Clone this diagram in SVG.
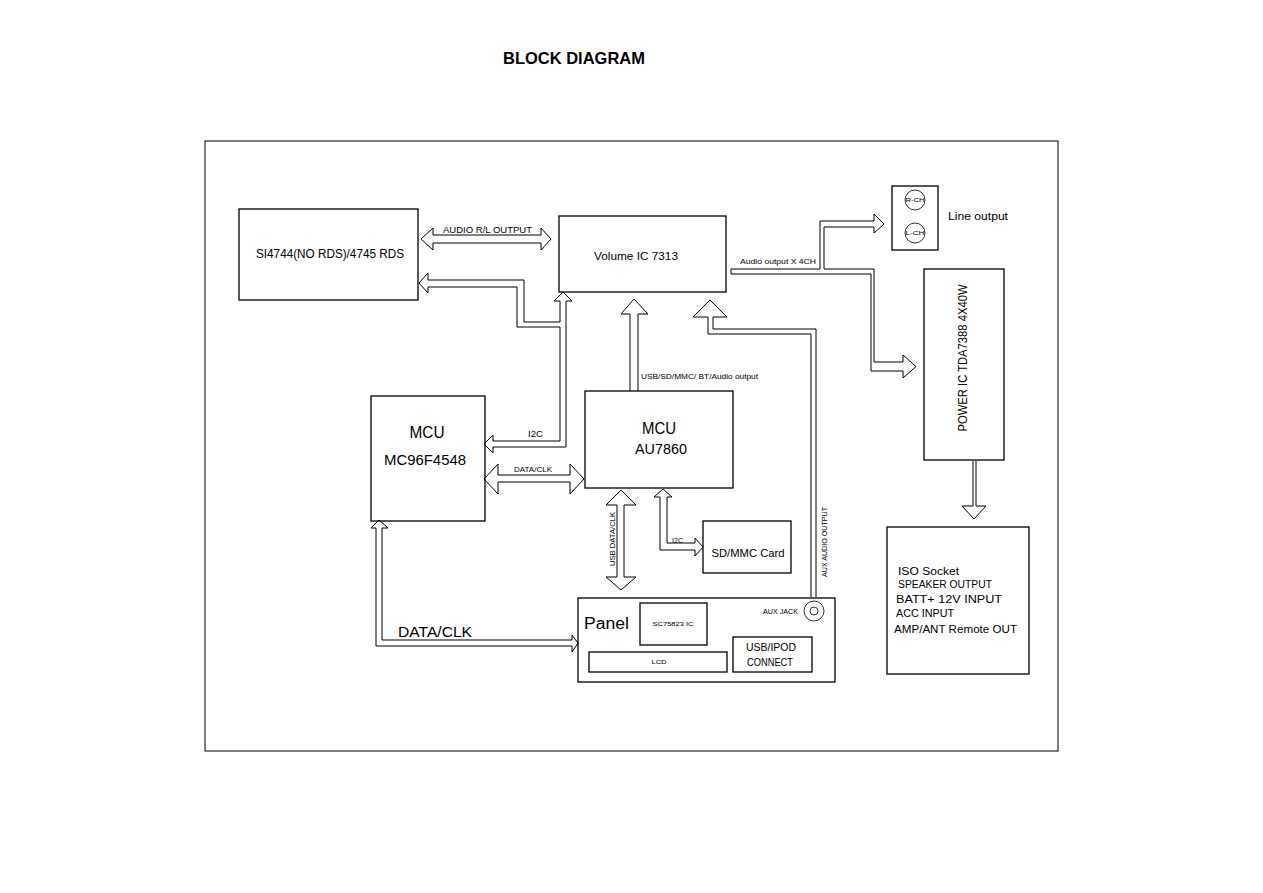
<svg xmlns="http://www.w3.org/2000/svg" width="1263" height="893" viewBox="0 0 1263 893">
<style>
.box{fill:none;stroke:#000;stroke-width:1.3}
.arr{fill:none;stroke:#000;stroke-width:1}
.t{font-family:"Liberation Sans",Arial,sans-serif;fill:#000}
.m{text-anchor:middle}
</style>
<rect width="1263" height="893" fill="#fff"/>
<text class="t" x="503" y="64" font-size="16.5" font-weight="bold" textLength="142" lengthAdjust="spacingAndGlyphs">BLOCK DIAGRAM</text>
<rect x="205" y="141" width="853" height="610" fill="none" stroke="#000" stroke-width="1"/>

<g id="connectors">
  <polygon class="arr" points="421,239 433,228 433,235 541,235 541,228 551,239 541,250 541,243 433,243 433,250"/>
  <polygon class="arr" points="563,292 572,301 566,301 566,447 493,447 493,453 484,444 493,435 493,441 560,441 560,327 517,327 517,287 428,287 428,293 419,283 428,273 428,280 524,280 524,322 560,322 560,301 554,301"/>
  <polyline class="arr" points="630,391 630,314 621,314 634,299 648,314 638,314 638,391"/>
  <polyline class="arr" points="811,597 811,334 708,334 708,317 693,317 710,300 727,317 713,317 713,329 816,329 816,597"/>
  <polygon class="arr" points="731,269 820,269 820,221 874,221 874,214 884,224 874,233 874,227 824,227 824,269 874,269 874,362 903,362 903,355 916,366.5 903,378 903,371 871,371 871,274 731,274"/>
  <polyline class="arr" points="973,461 973,506 962,506 974,519 986,506 976,506 976,461"/>
  <polygon class="arr" points="484,479 498,464 498,475 570,475 570,464 584,479 570,494 570,482 498,482 498,494"/>
  <polygon class="arr" points="621,490 636,505 624,505 624,577 636,577 621,590 606,577 617,577 617,505 606,505"/>
  <polygon class="arr" points="663,489 672,497 667,497 667,543 695,543 695,538 703,547 695,556 695,550 660,550 660,497 654,497"/>
  <polygon class="arr" points="379,520 388,528 382,528 382,640 572,640 572,635 578,643 572,652 572,646 376,646 376,528 371,528"/>
  <text class="t" x="443" y="233" font-size="8.5" textLength="89" lengthAdjust="spacingAndGlyphs">AUDIO R/L OUTPUT</text>
  <text class="t" x="740" y="263.5" font-size="7" textLength="76" lengthAdjust="spacingAndGlyphs">Audio output X 4CH</text>
  <text class="t" x="528" y="437" font-size="8.5" textLength="15" lengthAdjust="spacingAndGlyphs">I2C</text>
  <text class="t" x="514" y="471.5" font-size="7" textLength="38" lengthAdjust="spacingAndGlyphs">DATA/CLK</text>
  <text class="t" x="641" y="378.5" font-size="7.5" textLength="117" lengthAdjust="spacingAndGlyphs">USB/SD/MMC/ BT/Audio output</text>
  <text class="t m" transform="translate(614.7,539) rotate(-90)" font-size="7.5" textLength="54" lengthAdjust="spacingAndGlyphs">USB DATA/CLK</text>
  <text class="t" x="672" y="542.5" font-size="7" textLength="11" lengthAdjust="spacingAndGlyphs">I2C</text>
  <text class="t m" transform="translate(827,542) rotate(-90)" font-size="8" textLength="70" lengthAdjust="spacingAndGlyphs">AUX AUDIO OUTPUT</text>
  <text class="t" x="398" y="637" font-size="14" textLength="74" lengthAdjust="spacingAndGlyphs">DATA/CLK</text>
</g>

<g id="si4744">
  <rect class="box" x="239" y="209" width="179" height="91"/>
  <text class="t" x="256" y="258" font-size="12" textLength="148" lengthAdjust="spacingAndGlyphs">SI4744(NO RDS)/4745 RDS</text>
</g>
<g id="volume-ic">
  <rect class="box" x="559" y="216" width="167" height="76"/>
  <text class="t" x="594" y="260" font-size="11" textLength="84" lengthAdjust="spacingAndGlyphs">Volume IC 7313</text>
</g>
<g id="line-output">
  <rect class="box" x="892" y="186" width="46" height="64"/>
  <circle cx="915" cy="200" r="10" fill="none" stroke="#000" stroke-width="0.8"/>
  <circle cx="915" cy="233" r="10" fill="none" stroke="#000" stroke-width="0.8"/>
  <text class="t m" x="915" y="202" font-size="5.5" textLength="19" lengthAdjust="spacingAndGlyphs">R-CH</text>
  <text class="t m" x="915" y="235" font-size="5.5" textLength="19" lengthAdjust="spacingAndGlyphs">L-CH</text>
  <text class="t" x="948" y="219.5" font-size="10" textLength="60" lengthAdjust="spacingAndGlyphs">Line output</text>
</g>
<g id="power-ic">
  <rect class="box" x="924" y="269" width="80" height="191"/>
  <text class="t m" transform="translate(967,358) rotate(-90)" font-size="12" textLength="147" lengthAdjust="spacingAndGlyphs">POWER IC TDA7388 4X40W</text>
</g>
<g id="mcu-mc96f4548">
  <rect class="box" x="371" y="396" width="114" height="125"/>
  <text class="t m" x="427" y="438" font-size="17" textLength="35" lengthAdjust="spacingAndGlyphs">MCU</text>
  <text class="t m" x="425" y="465" font-size="14" textLength="82" lengthAdjust="spacingAndGlyphs">MC96F4548</text>
</g>
<g id="mcu-au7860">
  <rect class="box" x="585" y="391" width="148" height="97"/>
  <text class="t m" x="659" y="434" font-size="16.5" textLength="34" lengthAdjust="spacingAndGlyphs">MCU</text>
  <text class="t m" x="661" y="454" font-size="15" textLength="52" lengthAdjust="spacingAndGlyphs">AU7860</text>
</g>
<g id="sd-mmc">
  <rect class="box" x="703" y="521" width="88" height="52"/>
  <text class="t m" x="748" y="557" font-size="11.5" textLength="73" lengthAdjust="spacingAndGlyphs">SD/MMC Card</text>
</g>
<g id="panel">
  <rect class="box" x="578" y="598" width="257" height="84"/>
  <text class="t" x="584" y="629" font-size="16" textLength="45" lengthAdjust="spacingAndGlyphs">Panel</text>
  <rect class="box" x="640" y="603" width="67" height="42"/>
  <text class="t m" x="673" y="626" font-size="6" textLength="41" lengthAdjust="spacingAndGlyphs">SC75823 IC</text>
  <rect class="box" x="589" y="652" width="138" height="20"/>
  <text class="t m" x="659" y="664" font-size="6" textLength="15" lengthAdjust="spacingAndGlyphs">LCD</text>
  <rect class="box" x="733" y="637" width="79" height="35"/>
  <text class="t m" x="771" y="651" font-size="11" textLength="50" lengthAdjust="spacingAndGlyphs">USB/IPOD</text>
  <text class="t m" x="770" y="666" font-size="11" textLength="46" lengthAdjust="spacingAndGlyphs">CONNECT</text>
  <text class="t" x="798" y="613.5" font-size="6.5" text-anchor="end" textLength="35" lengthAdjust="spacingAndGlyphs">AUX JACK</text>
  <circle cx="814" cy="611" r="10" fill="none" stroke="#000" stroke-width="0.8"/>
  <circle cx="814" cy="611" r="4" fill="none" stroke="#000" stroke-width="0.8"/>
</g>
<g id="iso-socket">
  <rect class="box" x="887" y="527" width="142" height="147"/>
  <text class="t" x="898" y="575" font-size="10" textLength="61" lengthAdjust="spacingAndGlyphs">ISO Socket</text>
  <text class="t" x="898" y="588" font-size="10" textLength="94" lengthAdjust="spacingAndGlyphs">SPEAKER OUTPUT</text>
  <text class="t" x="896" y="603" font-size="10" textLength="106" lengthAdjust="spacingAndGlyphs">BATT+ 12V INPUT</text>
  <text class="t" x="896" y="617" font-size="10" textLength="58" lengthAdjust="spacingAndGlyphs">ACC INPUT</text>
  <text class="t" x="894" y="633" font-size="10" textLength="123" lengthAdjust="spacingAndGlyphs">AMP/ANT Remote OUT</text>
</g>
</svg>
